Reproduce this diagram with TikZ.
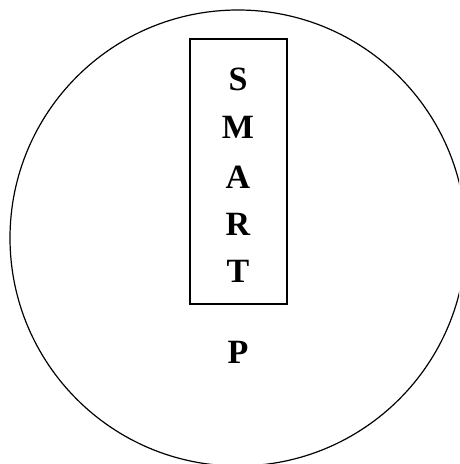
\documentclass[tikz,border=0pt]{standalone}
\usepackage{fontspec}
\setmainfont{Liberation Serif}
\usepackage{tikz}
\usetikzlibrary{positioning}

\begin{document}
\begin{tikzpicture}[
  x=1pt, y=1pt,
  letter/.style={font=\fontsize{34}{38}\selectfont\bfseries, inner sep=0pt},
  frame/.style={draw=black, line width=1.2pt}
]
\useasboundingbox (0,0) rectangle (459,464);
\clip (0,0) rectangle (459,464);
\node[frame, circle, minimum size=456pt, inner sep=0pt] (ring) at (238,226) {};
\node[frame, rectangle, minimum width=97pt, minimum height=265pt,
      inner sep=0pt] (box) at (238.5,292.5) {};
\node[letter] (s) at (238,385) {S};
\node[letter] (m) at (238,337) {M};
\node[letter] (a) at (238,287) {A};
\node[letter] (r) at (238,240) {R};
\node[letter] (t) at (238,193) {T};
\node[letter] (p) at (238,112) {P};
\end{tikzpicture}
\end{document}
